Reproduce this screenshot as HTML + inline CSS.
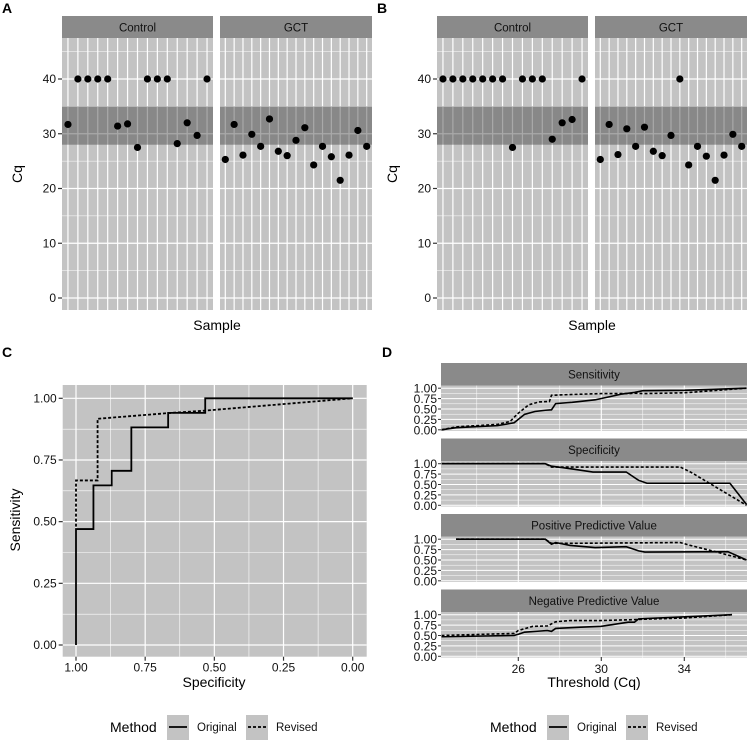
<!DOCTYPE html>
<html><head><meta charset="utf-8"><style>
html,body{margin:0;padding:0;background:#fff;}
svg{display:block;font-family:"Liberation Sans",Arial,sans-serif;}
</style></head><body>
<svg id="fig" width="750" height="740" viewBox="0 0 750 740" xmlns="http://www.w3.org/2000/svg"></svg>
<script>
// ---------- DATA ----------
const ctrlA = [31.7,40,40,40,40,31.4,31.8,27.5,40,40,40,28.2,32.0,29.7,40];
const gctA = [25.3,31.7,26.1,29.9,27.7,32.7,26.8,26.0,28.8,31.1,24.3,27.7,25.8,21.5,26.1,30.6,27.7];
const ctrlB = [40,40,40,40,40,40,40,27.5,40,40,40,29.0,32.0,32.6,40];
const gctB = [25.3,31.7,26.2,30.9,27.7,31.2,26.8,26.0,29.7,40,24.3,27.7,25.9,21.5,26.1,29.9,27.7];
const cqTicks = [0,10,20,30,40];
const bandLow = 28, bandHigh = 35;

const rocOrigSpec = [1,1,0.937,0.937,0.871,0.871,0.80,0.80,0.667,0.667,0.533,0.533,0];
const rocOrigSens = [0,0.47,0.47,0.647,0.647,0.706,0.706,0.882,0.882,0.941,0.941,1,1];
const rocRevSpec = [1,1,0.922,0.922,0.667,0.533,0];
const rocRevSens = [0.48,0.667,0.667,0.917,0.94,0.95,1];
const rocTicks = [0,0.25,0.5,0.75,1];

const facetNames = ["Sensitivity","Specificity","Positive Predictive Value","Negative Predictive Value"];
const sensOrigX = [22.3,23,25,25.8,26,26.3,26.8,27.3,27.6,27.8,28.6,29.7,31,31.6,32,34,37];
const sensOrigY = [0,0.05,0.1,0.17,0.25,0.37,0.44,0.47,0.48,0.63,0.66,0.72,0.86,0.9,0.94,0.95,1];
const sensRevX = [22.3,23,25,25.6,26,26.5,27,27.5,27.6,28.6,30,31.3,31.6,32,34,37];
const sensRevY = [0,0.07,0.13,0.2,0.4,0.6,0.67,0.68,0.83,0.85,0.87,0.87,0.88,0.87,0.89,1];
const specOrigX = [22.3,27.3,27.6,28.5,29.6,31.2,31.8,32.2,36.2,37];
const specOrigY = [1,1,0.94,0.88,0.8,0.8,0.6,0.53,0.53,0.02];
const specRevX = [22.3,27.3,27.6,28,33.8,34.3,37];
const specRevY = [1,1,0.92,0.92,0.92,0.8,0];
const ppvOrigX = [23,27.3,27.6,27.8,28.5,29.7,31.2,31.8,32.1,36.1,37];
const ppvOrigY = [1,1,0.88,0.92,0.85,0.8,0.82,0.72,0.69,0.7,0.5];
const ppvRevX = [23,27.3,27.6,28.3,33.8,34.3,35.5,37];
const ppvRevY = [1,1,0.9,0.9,0.92,0.85,0.7,0.5];
const npvOrigX = [22.3,25.8,26,26.3,27.4,27.6,27.8,29,30,31.3,31.6,31.8,36.3];
const npvOrigY = [0.47,0.5,0.53,0.58,0.62,0.6,0.67,0.7,0.72,0.82,0.82,0.9,1];
const npvRevX = [22.3,25.8,26,26.7,27.4,27.8,28.5,30,31.5,32,34,36.3];
const npvRevY = [0.5,0.55,0.62,0.72,0.73,0.83,0.86,0.86,0.88,0.89,0.92,1];
const thrTicks = [26,30,34];
const thrMinor = [24,28,32,36];
const propTicks = [0,0.25,0.5,0.75,1];

// ---------- HELPERS ----------
const NS="http://www.w3.org/2000/svg";
const svg=document.getElementById('fig');
function mk(tag,attrs,parent,text){const e=document.createElementNS(NS,tag);for(const k in attrs)e.setAttribute(k,attrs[k]);if(text!==undefined)e.textContent=text;(parent||svg).appendChild(e);return e;}
const PANEL="#c3c3c3", STRIP="#8a8a8a", DARK="#111";

// ---------- PANELS A/B ----------
function cqPanel(ox, label, ctrl, gct, nm){
  const g=mk('g',{});
  
  
  const top=38,bot=310;
  const y=v=>298-v*5.475;
  const t=mk('text',{x:ox+2,y:13,'font-size':14,'font-weight':'bold',fill:'#000'},g,label);
  
  
  const facets=[{name:'Control',x0:ox+62,x1:ox+213,vals:ctrl},{name:'GCT',x0:ox+220,x1:ox+372,vals:gct}];
  facets.forEach(f=>{
    const w=f.x1-f.x0, n=f.vals.length, step=w/(n-1+1.2);
    const xs=i=>f.x0+(0.6+i)*step;
    const bg=mk('rect',{x:f.x0,y:top,width:w,height:bot-top,fill:PANEL},g);
    
    
    [5,15,25,35,45].forEach(v=>mk('line',{x1:f.x0,x2:f.x1,y1:y(v),y2:y(v),stroke:'#fff','stroke-width':0.6},g));
    cqTicks.forEach(v=>mk('line',{x1:f.x0,x2:f.x1,y1:y(v),y2:y(v),stroke:'#fff','stroke-width':1.2},g));
    for(let i=0;i<n;i++) mk('line',{x1:xs(i),x2:xs(i),y1:top,y2:bot,stroke:'#fff','stroke-width':1.2},g);
    const band=mk('rect',{x:f.x0,y:y(bandHigh),width:w,height:y(bandLow)-y(bandHigh),fill:'#404040','fill-opacity':0.45},g);
    
    
    const st=mk('rect',{x:f.x0,y:16,width:w,height:22,fill:STRIP},g);
    
    
    mk('text',{x:(f.x0+f.x1)/2,y:31.5,'font-size':11.5,'text-anchor':'middle',fill:DARK},g,f.name);
    f.vals.forEach((v,i)=>{
      const c=mk('circle',{cx:xs(i),cy:y(v),r:3.6,fill:'#000'},g);
      
      
    });
  });
  cqTicks.forEach(v=>{
    mk('line',{x1:ox+58,x2:ox+62,y1:y(v),y2:y(v),stroke:'#333','stroke-width':1.2},g);
    mk('text',{x:ox+56,y:y(v)+4,'font-size':12,'text-anchor':'end',fill:DARK},g,String(v));
  });
  const yt=mk('text',{x:ox+22,y:174,'font-size':14,'text-anchor':'middle',fill:'#000',transform:`rotate(-90 ${ox+22} 174)`},g,'Cq');
  
  
  const xt=mk('text',{x:ox+217,y:330,'font-size':14,'text-anchor':'middle',fill:'#000'},g,'Sample');
  
  
}
cqPanel(0,'A',ctrlA,gctA,'a');
cqPanel(375,'B',ctrlB,gctB,'b');

// ---------- LEGEND ----------
function legend(ox,nm){
  const g=mk('g',{});
  
  
  mk('text',{x:ox+110,y:732,'font-size':14,fill:'#000'},g,'Method');
  [[167,'Original',null],[246,'Revised','3,2']].forEach(([bx,lab,dash])=>{
    const e=mk('g',{},g);
    
    
    mk('rect',{x:ox+bx,y:715,width:22,height:25,fill:PANEL},e);
    const l=mk('line',{x1:ox+bx+2,x2:ox+bx+20,y1:727,y2:727,stroke:'#000','stroke-width':1.8},e);
    if(dash)l.setAttribute('stroke-dasharray',dash);
    mk('text',{x:ox+bx+30,y:731,'font-size':11.5,fill:DARK},e,lab);
  });
}

// ---------- PANEL C ----------
(function(){
  const g=mk('g',{});
  
  
  const L=62.7,R=366.7,T=385,B=656.7;
  const x=s=>352.7-s*276.7, y=v=>645-v*246.7;
  mk('text',{x:2,y:357,'font-size':14,'font-weight':'bold',fill:'#000'},g,'C');
  const bg=mk('rect',{x:L,y:T,width:R-L,height:B-T,fill:PANEL},g);
  
  
  [0.125,0.375,0.625,0.875].forEach(v=>{
    mk('line',{x1:L,x2:R,y1:y(v),y2:y(v),stroke:'#fff','stroke-width':0.6},g);
    mk('line',{x1:x(v),x2:x(v),y1:T,y2:B,stroke:'#fff','stroke-width':0.6},g);
  });
  rocTicks.forEach(v=>{
    mk('line',{x1:L,x2:R,y1:y(v),y2:y(v),stroke:'#fff','stroke-width':1.2},g);
    mk('line',{x1:x(v),x2:x(v),y1:T,y2:B,stroke:'#fff','stroke-width':1.2},g);
    mk('line',{x1:L-4,x2:L,y1:y(v),y2:y(v),stroke:'#333','stroke-width':1.2},g);
    mk('text',{x:L-6,y:y(v)+4,'font-size':12,'text-anchor':'end',fill:DARK},g,v.toFixed(2));
    mk('line',{x1:x(v),x2:x(v),y1:B,y2:B+4,stroke:'#333','stroke-width':1.2},g);
    mk('text',{x:x(v),y:B+15,'font-size':12,'text-anchor':'middle',fill:DARK},g,v.toFixed(2));
  });
  const po=rocOrigSpec.map((s,i)=>x(s)+','+y(rocOrigSens[i])).join(' ');
  const l1=mk('polyline',{points:po,fill:'none',stroke:'#000','stroke-width':1.8},g);
  
  
  const pr=rocRevSpec.map((s,i)=>x(s)+','+y(rocRevSens[i])).join(' ');
  const l2=mk('polyline',{points:pr,fill:'none',stroke:'#000','stroke-width':1.8,'stroke-dasharray':'3,2'},g);
  
  
  const yt=mk('text',{x:20,y:520,'font-size':14,'text-anchor':'middle',fill:'#000',transform:'rotate(-90 20 520)'},g,'Sensitivity');
  
  
  const xt=mk('text',{x:214,y:687,'font-size':14,'text-anchor':'middle',fill:'#000'},g,'Specificity');
  
  
})();
legend(0,'c');

// ---------- PANEL D ----------
(function(){
  const g=mk('g',{});
  
  
  const L=441,R=747;
  const x=t=>518.3+(t-26)*20.75;
  mk('text',{x:382,y:357,'font-size':14,'font-weight':'bold',fill:'#000'},g,'D');
  const series=[[sensOrigX,sensOrigY,sensRevX,sensRevY],[specOrigX,specOrigY,specRevX,specRevY],[ppvOrigX,ppvOrigY,ppvRevX,ppvRevY],[npvOrigX,npvOrigY,npvRevX,npvRevY]];
  facetNames.forEach((name,k)=>{
    const st0=363+k*75.5, pT=st0+22.5, pB=pT+45.5;
    const y=v=>pT+2.7+(1-v)*41.6;
    const f=mk('g',{},g);
    
    
    mk('rect',{x:L,y:st0,width:R-L,height:22.5,fill:STRIP},f);
    mk('text',{x:(L+R)/2,y:st0+15.5,'font-size':11.5,'text-anchor':'middle',fill:DARK},f,name);
    mk('rect',{x:L,y:pT,width:R-L,height:pB-pT,fill:PANEL},f);
    [0.125,0.375,0.625,0.875].forEach(v=>mk('line',{x1:L,x2:R,y1:y(v),y2:y(v),stroke:'#fff','stroke-width':0.5},f));
    propTicks.forEach(v=>mk('line',{x1:L,x2:R,y1:y(v),y2:y(v),stroke:'#fff','stroke-width':1},f));
    thrMinor.forEach(t=>mk('line',{x1:x(t),x2:x(t),y1:pT,y2:pB,stroke:'#fff','stroke-width':0.5},f));
    thrTicks.forEach(t=>mk('line',{x1:x(t),x2:x(t),y1:pT,y2:pB,stroke:'#fff','stroke-width':1.1},f));
    propTicks.forEach(v=>{
      mk('line',{x1:L-3,x2:L,y1:y(v),y2:y(v),stroke:'#333','stroke-width':1},f);
      mk('text',{x:L-4,y:y(v)+4.5,'font-size':12,'text-anchor':'end',fill:DARK},f,v.toFixed(2));
    });
    const [ox,oy,rx,ry]=series[k];
    const a=mk('polyline',{points:ox.map((t,i)=>x(t)+','+y(oy[i])).join(' '),fill:'none',stroke:'#000','stroke-width':1.6},f);
    
    
    const b=mk('polyline',{points:rx.map((t,i)=>x(t)+','+y(ry[i])).join(' '),fill:'none',stroke:'#000','stroke-width':1.6,'stroke-dasharray':'3,2'},f);
    
    
  });
  const axY=657;
  thrTicks.forEach(t=>{
    mk('line',{x1:x(t),x2:x(t),y1:axY,y2:axY+4,stroke:'#333','stroke-width':1.1},g);
    mk('text',{x:x(t),y:axY+16,'font-size':12,'text-anchor':'middle',fill:DARK},g,String(t));
  });
  const xt=mk('text',{x:594,y:687,'font-size':14,'text-anchor':'middle',fill:'#000'},g,'Threshold (Cq)');
  
  
})();
legend(380,'d');
</script>
</body></html>
